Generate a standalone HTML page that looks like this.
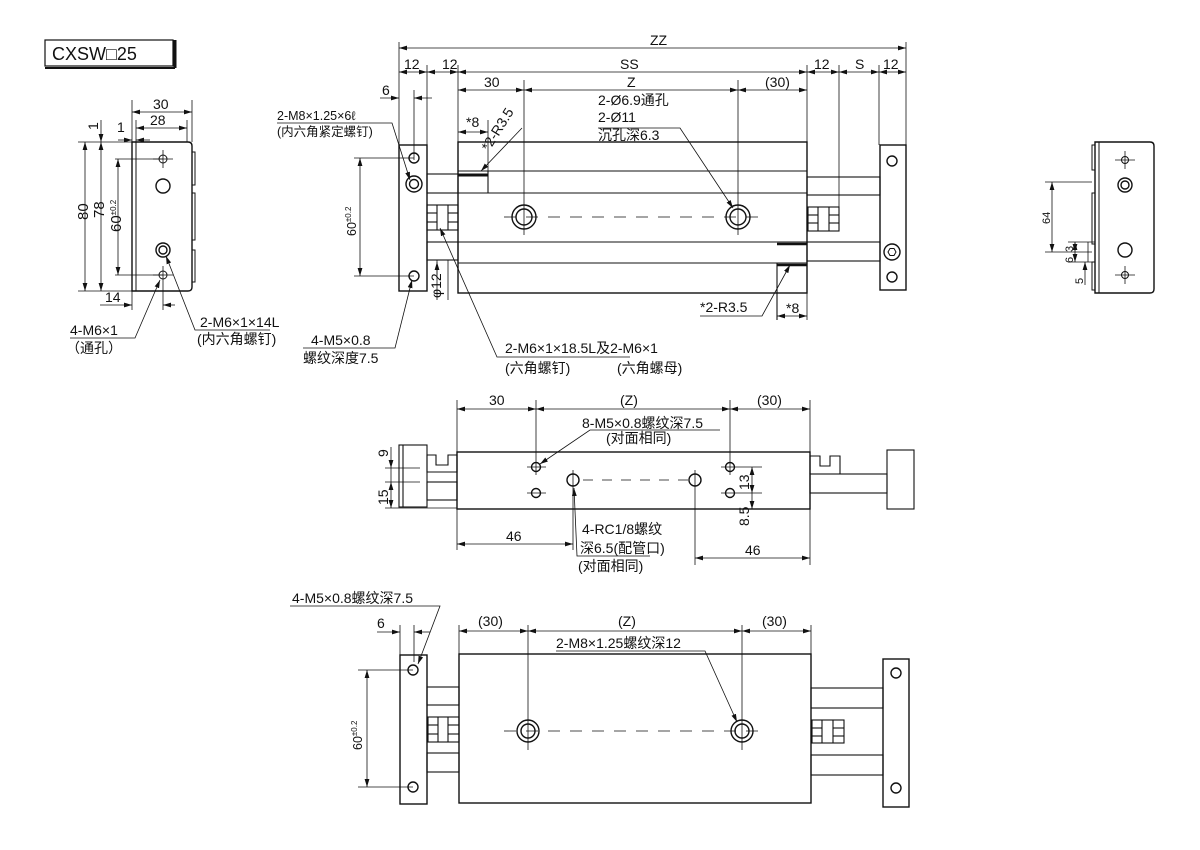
<!DOCTYPE html>
<html><head><meta charset="utf-8"><style>
html,body{margin:0;padding:0;background:#fff;}
svg{display:block;}
text{font-family:"Liberation Sans","Noto Sans CJK SC",sans-serif;font-size:14px;fill:#111;}
</style></head><body>
<svg width="1200" height="850" viewBox="0 0 1200 850" xmlns="http://www.w3.org/2000/svg">
<defs>
<marker id="a" viewBox="0 0 10 6" refX="10" refY="3" markerWidth="8" markerHeight="5" orient="auto-start-reverse" markerUnits="userSpaceOnUse"><path d="M0,0L10,3L0,6z" fill="#111"/></marker>
</defs>
<g fill="none" stroke="#111" stroke-width="1.4">
<rect x="45" y="40" width="128" height="26" stroke-width="1.2"/>
<line x1="175" y1="40" x2="175" y2="68" stroke-width="3"/>
<line x1="45" y1="68" x2="175" y2="68" stroke-width="2"/>

<!-- LEFT SIDE VIEW -->
<path d="M132,142 H188 Q192,142 192,146 V287 Q192,291 188,291 H132 Z"/>
<line x1="136" y1="142" x2="136" y2="291" stroke-width="1"/>
<path d="M192,152 H195 V185 H192 M192,193 H195 V240 H192 M192,250 H195 V282 H192" stroke-width="1"/>
<circle cx="163" cy="186" r="7"/>
<circle cx="163" cy="250" r="7"/><circle cx="163" cy="250" r="4"/>
<circle cx="163" cy="159" r="4" stroke-width="1"/><circle cx="163" cy="275" r="4" stroke-width="1"/>
<g stroke-width="0.8">
<line x1="153" y1="159" x2="173" y2="159"/><line x1="163" y1="150" x2="163" y2="168"/>
<line x1="153" y1="275" x2="173" y2="275"/><line x1="163" y1="266" x2="163" y2="310"/>
<line x1="132" y1="100" x2="132" y2="142"/><line x1="192" y1="100" x2="192" y2="142"/>
<line x1="136" y1="120" x2="136" y2="142"/><line x1="187" y1="120" x2="187" y2="142"/>
<line x1="132" y1="112" x2="192" y2="112" marker-start="url(#a)" marker-end="url(#a)"/>
<line x1="136" y1="128" x2="187" y2="128" marker-start="url(#a)" marker-end="url(#a)"/>
<line x1="118" y1="140" x2="132" y2="140" marker-end="url(#a)"/><line x1="136" y1="140" x2="150" y2="140" marker-start="url(#a)"/>
<line x1="78" y1="142" x2="132" y2="142"/><line x1="78" y1="291" x2="132" y2="291"/>
<line x1="115" y1="159" x2="163" y2="159"/><line x1="115" y1="275" x2="163" y2="275"/>
<line x1="85" y1="142" x2="85" y2="291" marker-start="url(#a)" marker-end="url(#a)"/>
<line x1="101" y1="142" x2="101" y2="291" marker-start="url(#a)" marker-end="url(#a)"/>
<line x1="101" y1="120" x2="101" y2="142" marker-end="url(#a)"/>
<line x1="118" y1="159" x2="118" y2="275" marker-start="url(#a)" marker-end="url(#a)"/>
<line x1="132" y1="291" x2="132" y2="310"/>
<line x1="100" y1="305" x2="132" y2="305" marker-end="url(#a)"/><line x1="163" y1="305" x2="175" y2="305" marker-start="url(#a)"/>
<polyline points="70,338 135,338 160,280" marker-end="url(#a)"/>
<polyline points="270,330 195,330 166,256" marker-end="url(#a)"/>
</g>

<!-- TOP VIEW -->
<rect x="399" y="145" width="28" height="146"/>
<rect x="458" y="142" width="349" height="151"/>
<g stroke-width="1.1">
<line x1="458" y1="171" x2="807" y2="171"/><line x1="458" y1="193" x2="807" y2="193"/>
<line x1="458" y1="242" x2="807" y2="242"/><line x1="458" y1="263" x2="807" y2="263"/>
<rect x="427" y="174" width="31" height="19"/><rect x="427" y="242" width="31" height="18"/>
<rect x="427" y="205" width="31" height="25"/><line x1="437" y1="205" x2="437" y2="230"/><line x1="448" y1="205" x2="448" y2="230"/>
<line x1="427" y1="213" x2="437" y2="213"/><line x1="427" y1="222" x2="437" y2="222"/><line x1="448" y1="213" x2="458" y2="213"/><line x1="448" y1="222" x2="458" y2="222"/>
<rect x="807" y="177" width="73" height="18"/><rect x="807" y="242" width="73" height="19"/>
<rect x="808" y="207" width="31" height="24"/><line x1="818" y1="207" x2="818" y2="231"/><line x1="829" y1="207" x2="829" y2="231"/>
<line x1="808" y1="215" x2="818" y2="215"/><line x1="808" y1="223" x2="818" y2="223"/><line x1="829" y1="215" x2="839" y2="215"/><line x1="829" y1="223" x2="839" y2="223"/>
<line x1="458" y1="175" x2="488" y2="175" stroke-width="3"/><line x1="488" y1="171" x2="488" y2="193"/>
<line x1="777" y1="244" x2="807" y2="244" stroke-width="2.5"/><line x1="777" y1="265" x2="807" y2="265" stroke-width="2.5"/><line x1="777" y1="263" x2="777" y2="320"/>
</g>
<rect x="880" y="145" width="26" height="145"/>
<circle cx="414" cy="158" r="5"/><circle cx="414" cy="184" r="8"/><circle cx="414" cy="184" r="4.5"/><circle cx="414" cy="276" r="5"/>
<circle cx="892" cy="161" r="5"/><circle cx="892" cy="252" r="8"/><polygon points="896,252 894,255.5 890,255.5 888,252 890,248.5 894,248.5" stroke-width="1"/><circle cx="892" cy="277" r="5"/>
<circle cx="524" cy="217" r="12"/><circle cx="524" cy="217" r="8"/>
<circle cx="738" cy="217" r="12"/><circle cx="738" cy="217" r="8"/>
<g stroke-width="0.8">
<line x1="504" y1="217" x2="760" y2="217" stroke-dasharray="12,10"/>
<line x1="524" y1="80" x2="524" y2="235"/><line x1="738" y1="80" x2="738" y2="235"/>
<line x1="399" y1="42" x2="399" y2="145"/><line x1="906" y1="42" x2="906" y2="145"/>
<line x1="427" y1="65" x2="427" y2="145"/><line x1="458" y1="65" x2="458" y2="142"/>
<line x1="807" y1="65" x2="807" y2="142"/><line x1="839" y1="65" x2="839" y2="207"/><line x1="879" y1="65" x2="879" y2="145"/>
<line x1="414" y1="90" x2="414" y2="160"/>
<line x1="399" y1="48" x2="906" y2="48" marker-start="url(#a)" marker-end="url(#a)"/>
<line x1="399" y1="72" x2="427" y2="72" marker-start="url(#a)" marker-end="url(#a)"/>
<line x1="427" y1="72" x2="458" y2="72" marker-start="url(#a)" marker-end="url(#a)"/>
<line x1="458" y1="72" x2="807" y2="72" marker-start="url(#a)" marker-end="url(#a)"/>
<line x1="807" y1="72" x2="839" y2="72" marker-start="url(#a)" marker-end="url(#a)"/>
<line x1="839" y1="72" x2="879" y2="72" marker-start="url(#a)" marker-end="url(#a)"/>
<line x1="879" y1="72" x2="906" y2="72" marker-start="url(#a)" marker-end="url(#a)"/>
<line x1="458" y1="90" x2="524" y2="90" marker-start="url(#a)" marker-end="url(#a)"/>
<line x1="524" y1="90" x2="738" y2="90" marker-start="url(#a)" marker-end="url(#a)"/>
<line x1="738" y1="90" x2="807" y2="90" marker-start="url(#a)" marker-end="url(#a)"/>
<line x1="380" y1="98" x2="399" y2="98" marker-end="url(#a)"/><line x1="414" y1="98" x2="432" y2="98" marker-start="url(#a)"/>
<line x1="458" y1="132" x2="488" y2="132" marker-start="url(#a)" marker-end="url(#a)"/><line x1="488" y1="120" x2="488" y2="171"/>
<line x1="777" y1="316" x2="807" y2="316" marker-start="url(#a)" marker-end="url(#a)"/><line x1="807" y1="293" x2="807" y2="320"/>
<line x1="354" y1="158" x2="414" y2="158"/><line x1="354" y1="276" x2="414" y2="276"/>
<line x1="360" y1="158" x2="360" y2="276" marker-start="url(#a)" marker-end="url(#a)"/>
<line x1="437" y1="260" x2="437" y2="300"/><line x1="448" y1="260" x2="448" y2="300"/>
<line x1="437" y1="275" x2="437" y2="262" marker-end="url(#a)"/>
<polyline points="277,123 392,123 410,180" marker-end="url(#a)"/>
<polyline points="303,348 395,348 412,280" marker-end="url(#a)"/>
<polyline points="630,357 497,357 440,228" marker-end="url(#a)"/>
<polyline points="598,128 680,128 733,208" marker-end="url(#a)"/>
<line x1="522" y1="128" x2="481" y2="171" marker-end="url(#a)"/>
<polyline points="700,316 762,316 790,265" marker-end="url(#a)"/>
</g>

<!-- RIGHT VIEW -->
<path d="M1095,142 H1150 Q1154,142 1154,146 V289 Q1154,293 1150,293 H1095 Z"/>
<line x1="1099" y1="142" x2="1099" y2="293" stroke-width="1"/>
<path d="M1095,145 H1092 V170 H1095 M1095,193 H1092 V244 H1095 M1095,262 H1092 V290 H1095" stroke-width="1"/>
<circle cx="1125" cy="185" r="7"/><circle cx="1125" cy="185" r="4"/>
<circle cx="1125" cy="250" r="7"/>
<circle cx="1125" cy="160" r="3.5" stroke-width="1"/><circle cx="1125" cy="275" r="3.5" stroke-width="1"/>
<g stroke-width="0.8">
<line x1="1115" y1="160" x2="1135" y2="160"/><line x1="1125" y1="151" x2="1125" y2="169"/>
<line x1="1115" y1="275" x2="1135" y2="275"/><line x1="1125" y1="266" x2="1125" y2="284"/>
<line x1="1045" y1="182" x2="1092" y2="182"/><line x1="1045" y1="252" x2="1092" y2="252"/>
<line x1="1052" y1="182" x2="1052" y2="252" marker-start="url(#a)" marker-end="url(#a)"/>
<line x1="1068" y1="242" x2="1095" y2="242"/><line x1="1068" y1="262" x2="1095" y2="262"/>
<line x1="1075" y1="242" x2="1075" y2="252" marker-start="url(#a)" marker-end="url(#a)"/>
<line x1="1075" y1="252" x2="1075" y2="262" marker-end="url(#a)"/>
<line x1="1088" y1="242" x2="1088" y2="262"/>
<line x1="1085" y1="285" x2="1085" y2="262" marker-end="url(#a)"/>
</g>

<!-- MIDDLE VIEW -->
<rect x="457" y="452" width="353" height="57"/>
<g stroke-width="1.1">
<rect x="399" y="445" width="28" height="62"/>
<line x1="403" y1="445" x2="403" y2="507"/>
<rect x="427" y="482" width="30" height="18"/>
<path d="M427,472 V455 H436 V465 H448 V455 H457 V472 Z"/><line x1="427" y1="472" x2="457" y2="472"/>
<rect x="887" y="450" width="27" height="59"/>
<rect x="810" y="474" width="77" height="19"/>
<path d="M810,474 V456 H820 V466 H830 V456 H840 V474"/>
</g>
<circle cx="536" cy="467" r="4.5"/><circle cx="536" cy="493" r="4.5"/>
<circle cx="730" cy="467" r="4.5"/><circle cx="730" cy="493" r="4.5"/>
<circle cx="573" cy="480" r="6"/><circle cx="695" cy="480" r="6"/>
<g stroke-width="0.8">
<line x1="527" y1="467" x2="546" y2="467"/><line x1="527" y1="493" x2="546" y2="493"/>
<line x1="721" y1="467" x2="762" y2="467"/><line x1="721" y1="493" x2="762" y2="493"/>
<line x1="583" y1="480" x2="688" y2="480" stroke-dasharray="10,9"/>
<line x1="536" y1="400" x2="536" y2="475"/><line x1="730" y1="400" x2="730" y2="475"/>
<line x1="573" y1="470" x2="573" y2="550"/><line x1="695" y1="470" x2="695" y2="565"/>
<line x1="457" y1="400" x2="457" y2="550"/><line x1="810" y1="400" x2="810" y2="565"/>
<line x1="457" y1="409" x2="536" y2="409" marker-start="url(#a)" marker-end="url(#a)"/>
<line x1="536" y1="409" x2="730" y2="409" marker-start="url(#a)" marker-end="url(#a)"/>
<line x1="730" y1="409" x2="810" y2="409" marker-start="url(#a)" marker-end="url(#a)"/>
<line x1="457" y1="544" x2="573" y2="544" marker-start="url(#a)" marker-end="url(#a)"/>
<line x1="695" y1="558" x2="810" y2="558" marker-start="url(#a)" marker-end="url(#a)"/>
<line x1="385" y1="468" x2="420" y2="468"/><line x1="385" y1="482" x2="420" y2="482"/><line x1="385" y1="508" x2="457" y2="508"/>
<line x1="391" y1="447" x2="391" y2="468" marker-end="url(#a)"/>
<line x1="391" y1="482" x2="391" y2="508" marker-start="url(#a)" marker-end="url(#a)"/>
<line x1="391" y1="468" x2="391" y2="482"/>
<line x1="752" y1="467" x2="752" y2="493" marker-start="url(#a)" marker-end="url(#a)"/>
<line x1="752" y1="493" x2="752" y2="509" marker-end="url(#a)"/><line x1="745" y1="509" x2="760" y2="509"/>
<polyline points="720,430 590,430 540,464" marker-end="url(#a)"/>
<polyline points="650,556 577,556 574,488" marker-end="url(#a)"/>
</g>

<!-- BOTTOM VIEW -->
<rect x="400" y="655" width="27" height="149"/>
<rect x="459" y="654" width="352" height="149"/>
<rect x="883" y="659" width="26" height="148"/>
<g stroke-width="1.1">
<rect x="427" y="687" width="32" height="18"/><rect x="427" y="753" width="32" height="19"/>
<rect x="428" y="717" width="31" height="25"/><line x1="438" y1="717" x2="438" y2="742"/><line x1="448" y1="717" x2="448" y2="742"/>
<line x1="428" y1="725" x2="438" y2="725"/><line x1="428" y1="734" x2="438" y2="734"/><line x1="448" y1="725" x2="459" y2="725"/><line x1="448" y1="734" x2="459" y2="734"/>
<rect x="811" y="688" width="72" height="20"/><rect x="811" y="755" width="72" height="20"/>
<rect x="812" y="720" width="32" height="23"/><line x1="822" y1="720" x2="822" y2="743"/><line x1="833" y1="720" x2="833" y2="743"/>
<line x1="812" y1="728" x2="822" y2="728"/><line x1="812" y1="736" x2="822" y2="736"/><line x1="833" y1="728" x2="844" y2="728"/><line x1="833" y1="736" x2="844" y2="736"/>
</g>
<circle cx="413" cy="670" r="5"/><circle cx="413" cy="787" r="5"/>
<circle cx="896" cy="673" r="5"/><circle cx="896" cy="788" r="5"/>
<circle cx="528" cy="731" r="11"/><circle cx="528" cy="731" r="7"/>
<circle cx="742" cy="731" r="11"/><circle cx="742" cy="731" r="7"/>
<g stroke-width="0.8">
<line x1="504" y1="731" x2="760" y2="731" stroke-dasharray="12,10"/>
<line x1="528" y1="625" x2="528" y2="750"/><line x1="742" y1="625" x2="742" y2="750"/>
<line x1="459" y1="625" x2="459" y2="654"/><line x1="811" y1="625" x2="811" y2="654"/>
<line x1="459" y1="631" x2="528" y2="631" marker-start="url(#a)" marker-end="url(#a)"/>
<line x1="528" y1="631" x2="742" y2="631" marker-start="url(#a)" marker-end="url(#a)"/>
<line x1="742" y1="631" x2="811" y2="631" marker-start="url(#a)" marker-end="url(#a)"/>
<line x1="400" y1="625" x2="400" y2="655"/><line x1="414" y1="625" x2="414" y2="662"/>
<line x1="377" y1="632" x2="400" y2="632" marker-end="url(#a)"/><line x1="414" y1="632" x2="430" y2="632" marker-start="url(#a)"/>
<line x1="358" y1="670" x2="413" y2="670"/><line x1="358" y1="787" x2="413" y2="787"/>
<line x1="367" y1="670" x2="367" y2="787" marker-start="url(#a)" marker-end="url(#a)"/>
<polyline points="290,606 440,606 418,664" marker-end="url(#a)"/>
<polyline points="556,651 705,651 737,722" marker-end="url(#a)"/>
</g>
</g>

<!-- TEXT -->
<text x="52" y="60" style="font-size:18px">CXSW□25</text>
<text x="153" y="109">30</text>
<text x="150" y="125">28</text>
<text x="117" y="132">1</text>
<text transform="translate(98,130) rotate(-90)">1</text>
<text transform="translate(88,220) rotate(-90)" style="font-size:15px">80</text>
<text transform="translate(104,218) rotate(-90)" style="font-size:15px">78</text>
<text transform="translate(121,232) rotate(-90)" style="font-size:15px">60<tspan style="font-size:8px" dy="-5">±0.2</tspan></text>
<text x="105" y="302">14</text>
<text x="70" y="335">4-M6×1</text>
<text x="66" y="353">（通孔）</text>
<text x="200" y="327">2-M6×1×14L</text>
<text x="197" y="344">(内六角螺钉)</text>
<text x="650" y="45">ZZ</text>
<text x="404" y="69">12</text><text x="442" y="69">12</text>
<text x="620" y="69">SS</text><text x="814" y="69">12</text><text x="855" y="69">S</text><text x="883" y="69">12</text>
<text x="484" y="87">30</text><text x="627" y="87">Z</text><text x="765" y="87">(30)</text>
<text x="382" y="95">6</text>
<text x="277" y="120" style="font-size:12.5px">2-M8×1.25×6ℓ</text>
<text x="277" y="136" style="font-size:12.5px">(内六角紧定螺钉)</text>
<text x="598" y="105">2-Ø6.9通孔</text>
<text x="598" y="122">2-Ø11</text>
<text x="598" y="140">沉孔深6.3</text>
<text x="466" y="127">*8</text>
<text transform="translate(489,152) rotate(-58)">*2-R3.5</text>
<text transform="translate(356,236) rotate(-90)" style="font-size:12.5px">60<tspan style="font-size:8px" dy="-5">±0.2</tspan></text>
<text transform="translate(441,298) rotate(-90)">φ12</text>
<text x="311" y="345">4-M5×0.8</text>
<text x="303" y="363">螺纹深度7.5</text>
<text x="505" y="353">2-M6×1×18.5L及2-M6×1</text>
<text x="505" y="373">(六角螺钉)</text><text x="617" y="373">(六角螺母)</text>
<text x="700" y="312">*2-R3.5</text>
<text x="786" y="313">*8</text>
<text transform="translate(1050,224) rotate(-90)" style="font-size:11px">64</text>
<text transform="translate(1073,252) rotate(-90)" style="font-size:11px">3</text>
<text transform="translate(1073,263) rotate(-90)" style="font-size:11px">6</text>
<text transform="translate(1083,284) rotate(-90)" style="font-size:11px">5</text>
<text x="489" y="405">30</text><text x="620" y="405">(Z)</text><text x="757" y="405">(30)</text>
<text x="582" y="428">8-M5×0.8螺纹深7.5</text>
<text x="606" y="443">(对面相同)</text>
<text transform="translate(388,457) rotate(-90)">9</text>
<text transform="translate(388,505) rotate(-90)">15</text>
<text transform="translate(749,490) rotate(-90)">13</text>
<text transform="translate(749,526) rotate(-90)">8.5</text>
<text x="506" y="541">46</text>
<text x="745" y="555">46</text>
<text x="582" y="534">4-RC1/8螺纹</text>
<text x="580" y="553">深6.5(配管口)</text>
<text x="578" y="571">(对面相同)</text>
<text x="292" y="603">4-M5×0.8螺纹深7.5</text>
<text x="377" y="628">6</text>
<text x="478" y="626">(30)</text><text x="618" y="626">(Z)</text><text x="762" y="626">(30)</text>
<text x="556" y="648">2-M8×1.25螺纹深12</text>
<text transform="translate(362,750) rotate(-90)" style="font-size:12.5px">60<tspan style="font-size:8px" dy="-5">±0.2</tspan></text>
</svg>
</body></html>
